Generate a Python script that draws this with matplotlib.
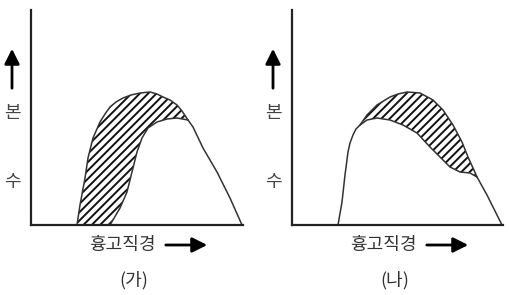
import numpy as np
import matplotlib
matplotlib.use('Agg')
import matplotlib.pyplot as plt

plt.rcParams['font.family'] = ['Noto Sans CJK KR', 'DejaVu Sans']
plt.rcParams['hatch.linewidth'] = 1.4

# (가) curves (x: diameter, y: number of trees)
ga_upper_x = [46, 49, 54, 57, 62, 69, 74, 79, 85, 92, 100, 109, 119, 126, 132, 139, 146, 151, 157]
ga_upper_y = [0, 20, 47, 67, 87, 103, 111, 118, 123, 127, 130, 132, 133, 131, 128, 125, 120, 114, 105]
ga_lower_x = [79, 89, 96, 101, 106, 111, 117, 126, 136, 146, 157, 162, 172, 186, 199, 211]
ga_lower_y = [0, 17, 33, 53, 73, 87, 97, 103, 106, 107, 105, 98, 77, 53, 27, 0]

# (나) curves
na_upper_x = [68, 75, 85, 98, 106, 115, 128, 141, 151, 161, 170, 176, 181, 185]
na_upper_y = [100, 110, 120, 128, 131, 133, 132, 125, 115, 100, 83, 68, 57, 48]
na_lower_x = [46, 50, 53, 56, 58, 61, 64, 68, 75, 85, 98, 111, 125, 138, 148, 158, 168, 178, 185, 195, 210]
na_lower_y = [0, 23, 50, 73, 82, 90, 96, 100, 105, 107, 105, 100, 92, 78, 68, 58, 53, 52, 48, 30, 0]

ylabel_chars = ['본', '수']
xlabel = '흉고직경'
titles = ['(가)', '(나)']

W, H = 510, 295
fig = plt.figure(figsize=(W / 100, H / 100), dpi=100)


def fx(px):
    return px / W


def fy(py):
    return 1 - py / H


panels = [
    (31, 212, ga_upper_x, ga_upper_y, ga_lower_x, ga_lower_y, 0, 157),
    (292, 211, na_upper_x, na_upper_y, na_lower_x, na_lower_y, 68, 185),
]

arrow_style = '-|>,head_length=6,head_width=3'

for k, (x0, w, ux, uy, lx, ly, lo, hi) in enumerate(panels):
    ax = fig.add_axes([fx(x0), fy(225), fx(w), 215 / H])
    ax.set_xlim(0, w)
    ax.set_ylim(0, 215)
    for s in ['top', 'right']:
        ax.spines[s].set_visible(False)
    for s in ['left', 'bottom']:
        ax.spines[s].set_linewidth(1.6)
        ax.spines[s].set_color('#222222')
    ax.set_xticks([])
    ax.set_yticks([])

    lx = np.array(lx)
    ly = np.array(ly)
    # hatched region between the two curves
    m = (lx >= lo) & (lx <= hi)
    px = list(ux) + list(lx[m][::-1])
    py = list(uy) + list(ly[m][::-1])
    ax.fill(px, py, facecolor='white', edgecolor='#111111', hatch='////', linewidth=0)

    ax.plot(ux, uy, color='#333333', lw=1.1, solid_joinstyle='round')
    ax.plot(lx, ly, color='#333333', lw=1.1, solid_joinstyle='round')

    # y label with arrow
    ax_x = x0 - 19
    fig.text(fx(ax_x), fy(113), ylabel_chars[0], ha='center', va='center', fontsize=13, color='#444444')
    fig.text(fx(ax_x), fy(182), ylabel_chars[1], ha='center', va='center', fontsize=13, color='#444444')
    fig.add_artist(matplotlib.patches.FancyArrowPatch(
        (fx(ax_x), fy(91)), (fx(ax_x), fy(46)), transform=fig.transFigure,
        arrowstyle=arrow_style, lw=2, color='black', mutation_scale=1.5))

    # x label with arrow
    fig.text(fx(x0 + 91), fy(245), xlabel, ha='center', va='center', fontsize=13, color='#333333')
    fig.add_artist(matplotlib.patches.FancyArrowPatch(
        (fx(x0 + 132), fy(245)), (fx(x0 + 179), fy(245)), transform=fig.transFigure,
        arrowstyle=arrow_style, lw=2, color='black', mutation_scale=1.5))

    fig.text(fx(x0 + 103), fy(280), titles[k], ha='center', va='center', fontsize=13, color='#333333')

fig.savefig('out.png', dpi=100)
